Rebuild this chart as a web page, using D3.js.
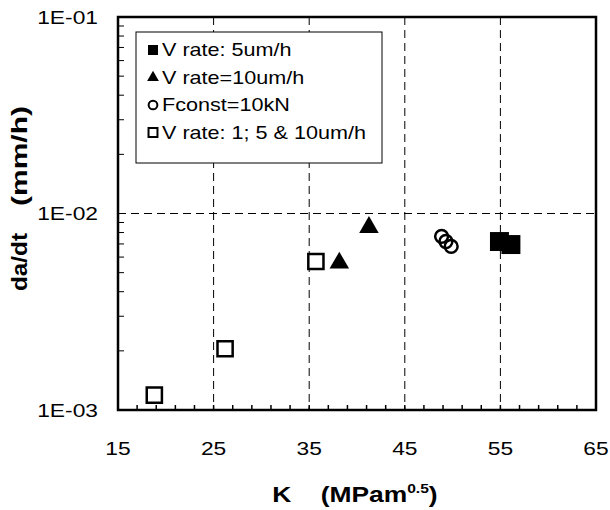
<!DOCTYPE html>
<html>
<head>
<meta charset="utf-8">
<script src="https://cdn.jsdelivr.net/npm/d3@7"></script>
<style>
  body { margin: 0; background: #fff; }
  svg { font-family: Arial, "Liberation Sans", sans-serif; }
</style>
</head>
<body>
<div id="chart"></div>
<script>
// Data
const vRate5K = [54.9, 56.1];
const vRate5Rate = [7.2e-3, 6.95e-3];
const vRate10K = [38.15, 41.25];
const vRate10Rate = [5.6e-3, 8.5e-3];
const fconstK = [48.85, 49.3, 49.85];
const fconstRate = [7.65e-3, 7.2e-3, 6.8e-3];
const vRateMixK = [18.8, 26.2, 35.7];
const vRateMixRate = [1.19e-3, 2.05e-3, 5.7e-3];

const xTicks = [15, 25, 35, 45, 55, 65];
const yTicks = [1e-3, 1e-2, 1e-1];
const seriesNames = ["V rate: 5um/h", "V rate=10um/h", "Fconst=10kN", "V rate: 1; 5 & 10um/h"];

const margin = { top: 17, right: 14, bottom: 100, left: 118 };
const width = 610 - margin.left - margin.right;
const height = 510 - margin.top - margin.bottom;
const stretch = 1.2; // the original picture is a bit wider than tall

const svg = d3.select("#chart").append("svg")
    .attr("width", 610)
    .attr("height", 510)
  .append("g")
    .attr("transform", "translate(" + margin.left + "," + margin.top + ")");

const x = d3.scaleLinear().domain([15, 65]).range([0, width]);
const y = d3.scaleLog().domain([1e-3, 1e-1]).range([height, 0]);

// dashed gridlines
svg.selectAll(".vgrid")
    .data(xTicks.slice(1, -1))
  .enter().append("line")
    .attr("x1", d => x(d)).attr("x2", d => x(d))
    .attr("y1", 0).attr("y2", height)
    .attr("stroke", "#000").attr("stroke-width", 1)
    .attr("stroke-dasharray", "8,5");

svg.selectAll(".hgrid")
    .data(yTicks.slice(1, -1))
  .enter().append("line")
    .attr("x1", 0).attr("x2", width)
    .attr("y1", d => y(d)).attr("y2", d => y(d))
    .attr("stroke", "#000").attr("stroke-width", 1)
    .attr("stroke-dasharray", "8,5");

// minor ticks (inside)
const xMinor = d3.range(15, 65.1, 2);
svg.selectAll(".xminor")
    .data(xMinor)
  .enter().append("line")
    .attr("x1", d => x(d)).attr("x2", d => x(d))
    .attr("y1", height).attr("y2", height - 5)
    .attr("stroke", "#000").attr("stroke-width", 1.5);

const yMinor = [];
[1e-3, 1e-2].forEach(dec => d3.range(2, 10).forEach(k => yMinor.push(dec * k)));
svg.selectAll(".yminor")
    .data(yMinor)
  .enter().append("line")
    .attr("x1", 0).attr("x2", 6)
    .attr("y1", d => y(d)).attr("y2", d => y(d))
    .attr("stroke", "#000").attr("stroke-width", 1);

// horizontal text, widened a little like the reference
function wideText(parent, px, py, anchor, size) {
  return parent.append("g")
      .attr("transform", "translate(" + px + "," + py + ")")
    .append("text")
      .attr("transform", "scale(" + stretch + ",1)")
      .attr("text-anchor", anchor)
      .attr("font-size", size + "px")
      .style("white-space", "pre");
}

xTicks.forEach(d => {
  wideText(svg, x(d), height + 45, "middle", 19).text(d);
});

const fmtExp = d => {
  const e = Math.round(Math.log10(d));
  return "1E" + (e < 0 ? "-" : "+") + String(Math.abs(e)).padStart(2, "0");
};
yTicks.forEach(d => {
  wideText(svg, -20, y(d), "end", 19).attr("dy", "0.35em").text(fmtExp(d));
});

// frame
svg.append("rect")
    .attr("x", 0).attr("y", 0)
    .attr("width", width).attr("height", height)
    .attr("fill", "none")
    .attr("stroke", "#000")
    .attr("stroke-width", 2.5);

// axis titles
const xTitle = wideText(svg, width / 2 - 2, height + 92, "middle", 22)
    .attr("font-weight", "bold");
xTitle.append("tspan").text("K    (MPam");
xTitle.append("tspan").attr("font-size", "13px").attr("dy", "-9").text("0.5");
xTitle.append("tspan").attr("dy", "9").text(")");

const yTitle = svg.append("text")
    .attr("transform", "rotate(-90)")
    .attr("y", -91)
    .attr("font-size", "22px")
    .attr("font-weight", "bold");
yTitle.append("tspan")
    .attr("x", -(291 - margin.top))
    .attr("text-anchor", "start")
    .attr("textLength", 58)
    .attr("lengthAdjust", "spacingAndGlyphs")
    .text("da/dt");
yTitle.append("tspan")
    .attr("x", -(206 - margin.top))
    .attr("text-anchor", "start")
    .attr("textLength", 100)
    .attr("lengthAdjust", "spacingAndGlyphs")
    .text("(mm/h)");

// markers
const sqFilled = d3.symbol().type(d3.symbolSquare).size(360);
const triFilled = d3.symbol().type(d3.symbolTriangle).size(165);
const circ = d3.symbol().type(d3.symbolCircle).size(130);
const sqOpen = d3.symbol().type(d3.symbolSquare).size(230);

svg.selectAll(".v5")
    .data(vRate5K.map((k, i) => ({ k, r: vRate5Rate[i] })))
  .enter().append("path")
    .attr("transform", d => "translate(" + x(d.k) + "," + y(d.r) + ")")
    .attr("d", sqFilled)
    .attr("fill", "#000");

svg.selectAll(".v10")
    .data(vRate10K.map((k, i) => ({ k, r: vRate10Rate[i] })))
  .enter().append("path")
    .attr("transform", d => "translate(" + x(d.k) + "," + y(d.r) + ")")
    .attr("d", triFilled)
    .attr("fill", "#000");

svg.selectAll(".fc")
    .data(fconstK.map((k, i) => ({ k, r: fconstRate[i] })))
  .enter().append("path")
    .attr("transform", d => "translate(" + x(d.k) + "," + y(d.r) + ")")
    .attr("d", circ)
    .attr("fill", "none")
    .attr("stroke", "#000")
    .attr("stroke-width", 2.5);

svg.selectAll(".mix")
    .data(vRateMixK.map((k, i) => ({ k, r: vRateMixRate[i] })))
  .enter().append("path")
    .attr("transform", d => "translate(" + x(d.k) + "," + y(d.r) + ")")
    .attr("d", sqOpen)
    .attr("fill", "#fff")
    .attr("stroke", "#000")
    .attr("stroke-width", 2.5);

// legend
const legend = svg.append("g")
    .attr("transform", "translate(18,15)");

legend.append("rect")
    .attr("width", 246).attr("height", 131)
    .attr("fill", "#fff")
    .attr("stroke", "#000").attr("stroke-width", 1);

const legSymbols = [
  { sym: d3.symbol().type(d3.symbolSquare).size(100), fill: "#000", stroke: "none" },
  { sym: d3.symbol().type(d3.symbolTriangle).size(60), fill: "#000", stroke: "none" },
  { sym: d3.symbol().type(d3.symbolCircle).size(60), fill: "none", stroke: "#000" },
  { sym: d3.symbol().type(d3.symbolSquare).size(80), fill: "none", stroke: "#000" }
];

seriesNames.forEach((name, i) => {
  const rowY = 18 + i * 27.5;
  legend.append("path")
      .attr("transform", "translate(17," + rowY + ")")
      .attr("d", legSymbols[i].sym)
      .attr("fill", legSymbols[i].fill)
      .attr("stroke", legSymbols[i].stroke)
      .attr("stroke-width", 2);
  wideText(legend, 26, rowY, "start", 18)
      .attr("dy", "0.35em")
      .text(name);
});
</script>
</body>
</html>
